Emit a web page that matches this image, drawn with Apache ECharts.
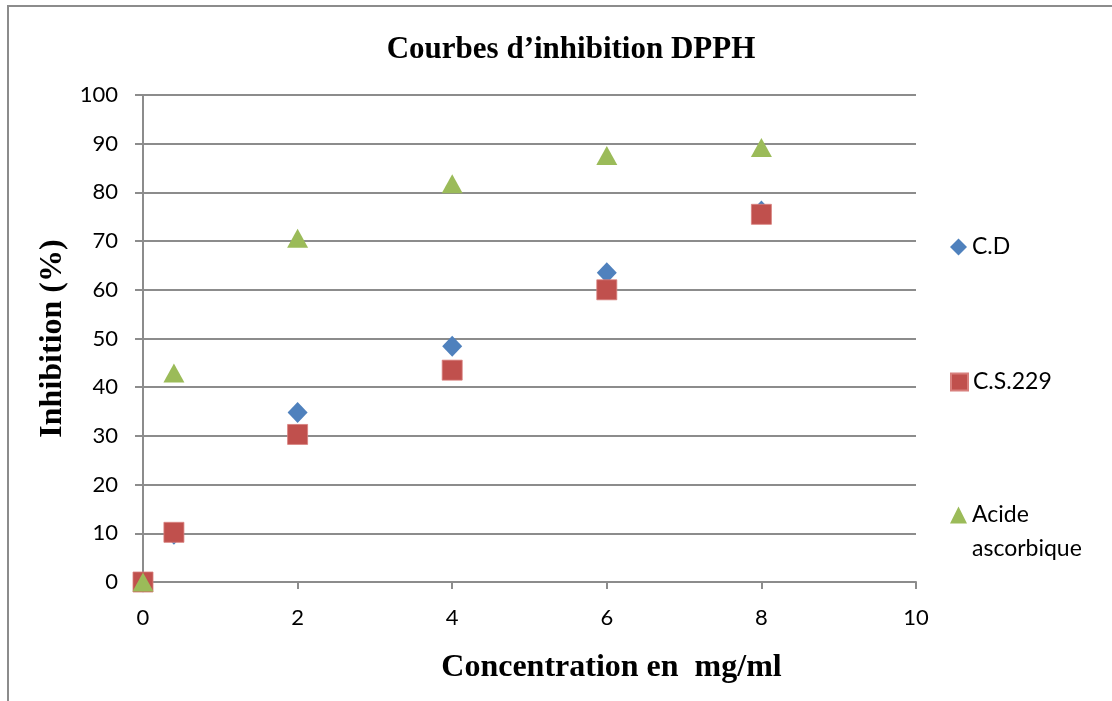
<!DOCTYPE html>
<html>
<head>
<meta charset="utf-8">
<script src="https://cdn.jsdelivr.net/npm/echarts@6/dist/echarts.min.js"></script>
<style>
  html, body { margin: 0; padding: 0; background: #fff; }
  #chart { width: 1112px; height: 701px; }
</style>
</head>
<body>
<div id="chart"></div>
<script>
// Concentrations (mg/ml)
const concentrations = [0, 0.4, 2, 4, 6, 8];
// Inhibition (%) per sample
const cdValues = [0, 9.8, 34.8, 48.4, 63.5, 76.2];
const cs229Values = [0, 10.2, 30.3, 43.5, 60.0, 75.5];
const ascorbicValues = [0, 42.9, 70.6, 81.8, 87.6, 89.2];

const seriesNames = ['C.D', 'C.S.229', 'Acide ascorbique'];
const seriesColors = ['#4f81bd', '#c0504d', '#9bbb59'];

const yTicks = { min: 0, max: 100, step: 10 };
const xTicks = { min: 0, max: 10, step: 2 };

const toPairs = vals => concentrations.map((c, i) => [c, vals[i]]);

const axisGray = '#8c8c8c';
const labelFont = 'Lato, "Open Sans", sans-serif';
const serifFont = '"Liberation Serif", "Times New Roman", serif';

const chart = echarts.init(document.getElementById('chart'), null, { renderer: 'canvas' });

const legendBase = {
  orient: 'vertical',
  left: 945,
  itemWidth: 17,
  itemHeight: 17,
  itemGap: 10,
  textStyle: { fontFamily: labelFont, fontSize: 23, color: '#000', lineHeight: 34 }
};

chart.setOption({
  backgroundColor: '#fff',
  animation: false,
  title: {
    text: 'Courbes d\u2019inhibition DPPH',
    left: 566,
    top: 29,
    textAlign: 'center',
    textStyle: { fontFamily: serifFont, fontWeight: 'bold', fontSize: 31, color: '#000' }
  },
  legend: [
    Object.assign({}, legendBase, { top: 225, data: [{ name: seriesNames[0], icon: 'diamond' }] }),
    Object.assign({}, legendBase, { top: 360, data: [{ name: seriesNames[1], icon: 'rect' }] }),
    Object.assign({}, legendBase, {
      top: 459,
      data: [{ name: seriesNames[2], icon: 'triangle' }],
      // leading empty line keeps the icon level with the first word
      formatter: n => '\n' + n.replace(' ', '\n')
    })
  ],
  grid: { left: 143, right: 196, top: 95, bottom: 119, containLabel: false },
  xAxis: {
    type: 'value',
    min: xTicks.min,
    max: xTicks.max,
    interval: xTicks.step,
    name: 'Concentration en  mg/ml',
    nameLocation: 'middle',
    nameGap: 70,
    nameTextStyle: {
      fontFamily: serifFont, fontWeight: 'bold', fontSize: 32, color: '#000',
      padding: [0, 0, 0, 164]
    },
    axisLine: { show: true, lineStyle: { color: axisGray, width: 2 } },
    axisTick: { show: true, length: 7, lineStyle: { color: axisGray, width: 2 } },
    axisLabel: { fontFamily: labelFont, fontSize: 22, color: '#000', margin: 25 },
    splitLine: { show: false }
  },
  yAxis: {
    type: 'value',
    min: yTicks.min,
    max: yTicks.max,
    interval: yTicks.step,
    name: 'Inhibition (%)',
    nameLocation: 'middle',
    nameRotate: 90,
    nameGap: 66,
    nameTextStyle: { fontFamily: serifFont, fontWeight: 'bold', fontSize: 32, color: '#000' },
    axisLine: { show: true, lineStyle: { color: axisGray, width: 2 } },
    axisTick: { show: true, length: 8, lineStyle: { color: axisGray, width: 2 } },
    axisLabel: { fontFamily: labelFont, fontSize: 22, color: '#000', margin: 25 },
    splitLine: { show: true, lineStyle: { color: axisGray, width: 2 } }
  },
  graphic: [
    {
      type: 'polyline',
      silent: true,
      shape: { points: [[8, 701], [8, 6], [1112, 6]] },
      style: { stroke: '#8c8c8c', lineWidth: 2, fill: null }
    }
  ],
  series: [
    {
      name: seriesNames[0],
      type: 'scatter',
      data: toPairs(cdValues),
      symbol: 'diamond',
      symbolSize: [20, 21],
      itemStyle: { color: seriesColors[0], opacity: 1 },
      z: 2
    },
    {
      name: seriesNames[1],
      type: 'scatter',
      data: toPairs(cs229Values),
      symbol: 'rect',
      symbolSize: [20, 20],
      itemStyle: { color: seriesColors[1], opacity: 1, borderColor: '#d87f7c', borderWidth: 0.8 },
      z: 3
    },
    {
      name: seriesNames[2],
      type: 'scatter',
      data: toPairs(ascorbicValues),
      symbol: 'triangle',
      symbolSize: [21, 19],
      itemStyle: { color: seriesColors[2], opacity: 1 },
      z: 4
    }
  ]
});
</script>
</body>
</html>
